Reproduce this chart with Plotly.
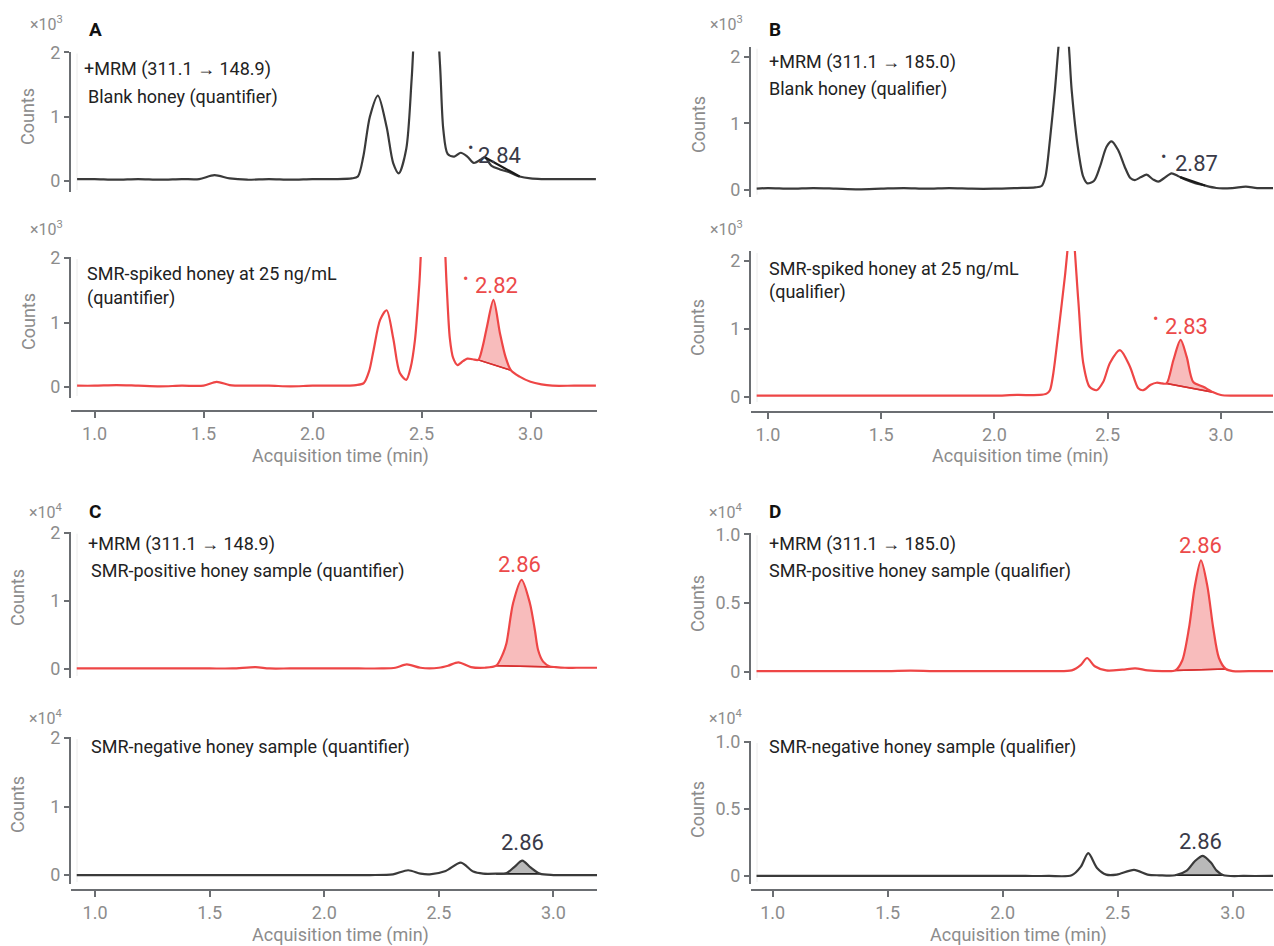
import numpy as np
import plotly.graph_objects as go

W, H = 1274, 946
FONT = "Roboto"
RED = "#ee4646"
RED_FILL = "rgba(238,95,95,0.42)"
RED_BASE = "#d83030"
DARK = "#3a3a3a"
GRAY_FILL = "rgba(100,100,100,0.45)"
AXIS = "#6b6e72"
TICKTXT = "#8c8c8c"
TXT = "#222222"

# ---------------- DATA (counts in units shown on each axis) ----------------
# Panel A top: blank honey, quantifier (x10^3)
a_top_t = [0.92, 1.00, 1.10, 1.20, 1.30, 1.40, 1.48, 1.55, 1.62, 1.70, 1.80, 1.90, 2.00, 2.10, 2.18,
           2.208, 2.233, 2.263, 2.30, 2.34, 2.37, 2.396, 2.43, 2.455, 2.48, 2.52, 2.56, 2.585, 2.60,
           2.62, 2.65, 2.68, 2.71, 2.74, 2.77, 2.79, 2.82, 2.86, 2.90, 2.95, 3.00, 3.05, 3.10, 3.20, 3.30]
a_top_y = [0.03, 0.03, 0.02, 0.03, 0.02, 0.03, 0.03, 0.09, 0.04, 0.02, 0.03, 0.02, 0.03, 0.03, 0.04,
           0.07, 0.38, 1.00, 1.33, 0.84, 0.28, 0.12, 0.50, 1.60, 3.00, 3.60, 3.00, 1.80, 0.80,
           0.42, 0.38, 0.44, 0.38, 0.28, 0.33, 0.37, 0.24, 0.18, 0.14, 0.07, 0.04, 0.03, 0.03, 0.03, 0.03]
a_top_int = [2.79, 2.95]

# Panel A bottom: SMR-spiked honey 25 ng/mL, quantifier (x10^3)
a_bot_t = [0.92, 1.00, 1.10, 1.20, 1.30, 1.40, 1.50, 1.56, 1.62, 1.70, 1.80, 1.90, 2.00, 2.10, 2.20,
           2.235, 2.26, 2.28, 2.31, 2.34, 2.37, 2.40, 2.43, 2.45, 2.47, 2.49, 2.52, 2.56, 2.60, 2.615,
           2.63, 2.645, 2.665, 2.69, 2.71, 2.735, 2.76, 2.78, 2.80, 2.83, 2.86, 2.885, 2.91, 2.95,
           3.00, 3.05, 3.10, 3.20, 3.30]
a_bot_y = [0.02, 0.02, 0.03, 0.02, 0.01, 0.02, 0.02, 0.08, 0.03, 0.02, 0.02, 0.01, 0.02, 0.02, 0.03,
           0.06, 0.25, 0.57, 1.04, 1.19, 0.76, 0.22, 0.11, 0.30, 0.73, 1.60, 3.20, 3.60, 2.60, 1.60,
           0.75, 0.45, 0.34, 0.40, 0.44, 0.43, 0.42, 0.62, 0.93, 1.35, 0.83, 0.47, 0.26, 0.16,
           0.08, 0.04, 0.02, 0.02, 0.02]
a_bot_peak = [2.76, 2.91]

# Panel B top: blank honey, qualifier (x10^3)
b_top_t = [0.95, 1.00, 1.10, 1.20, 1.30, 1.40, 1.50, 1.60, 1.70, 1.80, 1.90, 2.00, 2.10, 2.18, 2.208,
           2.225, 2.245, 2.267, 2.29, 2.305, 2.325, 2.341, 2.37, 2.392, 2.41, 2.44, 2.466, 2.495,
           2.517, 2.546, 2.575, 2.60, 2.62, 2.645, 2.672, 2.70, 2.723, 2.75, 2.782, 2.81, 2.848,
           2.88, 2.92, 2.98, 3.05, 3.11, 3.16, 3.23]
b_top_y = [0.02, 0.03, 0.02, 0.03, 0.02, 0.01, 0.02, 0.03, 0.02, 0.03, 0.02, 0.02, 0.03, 0.04, 0.06,
           0.20, 0.75, 1.50, 2.40, 2.70, 2.30, 1.50, 0.60, 0.20, 0.10, 0.14, 0.35, 0.65,
           0.73, 0.60, 0.35, 0.18, 0.15, 0.19, 0.23, 0.16, 0.125, 0.18, 0.25, 0.21, 0.15,
           0.11, 0.075, 0.03, 0.03, 0.05, 0.03, 0.03]
b_top_int = [2.82, 2.93]

# Panel B bottom: SMR-spiked honey 25 ng/mL, qualifier (x10^3)
b_bot_t = [0.95, 1.00, 1.10, 1.20, 1.30, 1.40, 1.50, 1.60, 1.70, 1.80, 1.90, 2.00, 2.10, 2.20, 2.23,
           2.245, 2.26, 2.282, 2.311, 2.34, 2.37, 2.392, 2.42, 2.451, 2.48, 2.51, 2.554, 2.598,
           2.635, 2.657, 2.69, 2.716, 2.74, 2.76, 2.79, 2.822, 2.849, 2.878, 2.922, 2.966, 3.00,
           3.05, 3.10, 3.20, 3.23]
b_bot_y = [0.02, 0.02, 0.02, 0.02, 0.02, 0.02, 0.02, 0.02, 0.02, 0.02, 0.02, 0.02, 0.03, 0.03, 0.05,
           0.10, 0.35, 0.94, 1.77, 2.60, 1.43, 0.50, 0.15, 0.10, 0.22, 0.50, 0.69, 0.45,
           0.13, 0.10, 0.18, 0.21, 0.20, 0.20, 0.54, 0.84, 0.59, 0.22, 0.15, 0.07, 0.03,
           0.02, 0.02, 0.02, 0.02]
b_bot_peak = [2.76, 2.966]

# Panel C top: SMR-positive honey sample, quantifier (x10^4)
c_top_t = [0.92, 1.00, 1.10, 1.20, 1.30, 1.40, 1.50, 1.60, 1.70, 1.76, 1.85, 1.95, 2.05, 2.15, 2.25,
           2.31, 2.36, 2.42, 2.50, 2.54, 2.585, 2.64, 2.70, 2.75, 2.78, 2.795, 2.824, 2.861, 2.897,
           2.919, 2.933, 2.955, 2.984, 3.01, 3.05, 3.10, 3.19]
c_top_y = [0.01, 0.01, 0.01, 0.01, 0.01, 0.01, 0.01, 0.01, 0.03, 0.01, 0.01, 0.01, 0.01, 0.01, 0.01,
           0.02, 0.07, 0.02, 0.02, 0.05, 0.10, 0.03, 0.02, 0.05, 0.23, 0.38, 0.97, 1.31, 0.97,
           0.57, 0.28, 0.11, 0.04, 0.03, 0.02, 0.02, 0.02]
c_top_peak = [2.75, 3.01]

# Panel C bottom: SMR-negative honey sample, quantifier (x10^4)
c_bot_t = [0.92, 1.00, 1.10, 1.20, 1.30, 1.40, 1.50, 1.60, 1.70, 1.80, 1.90, 2.00, 2.10, 2.20, 2.30,
           2.366, 2.42, 2.46, 2.53, 2.596, 2.65, 2.693, 2.75, 2.796, 2.83, 2.864, 2.90, 2.94,
           3.00, 3.10, 3.19]
c_bot_y = [0.00, 0.00, 0.00, 0.00, 0.00, 0.00, 0.00, 0.00, 0.00, 0.00, 0.00, 0.00, 0.00, 0.00, 0.01,
           0.07, 0.02, 0.01, 0.06, 0.18, 0.05, 0.02, 0.02, 0.03, 0.12, 0.21, 0.11, 0.02,
           0.00, 0.00, 0.00]
c_bot_peak = [2.75, 2.94]

# Panel D top: SMR-positive honey sample, qualifier (x10^4)
d_top_t = [0.93, 1.00, 1.10, 1.20, 1.30, 1.40, 1.50, 1.60, 1.70, 1.80, 1.90, 2.00, 2.10, 2.20, 2.30,
           2.34, 2.367, 2.40, 2.45, 2.52, 2.576, 2.63, 2.70, 2.75, 2.78, 2.81, 2.835, 2.862, 2.89,
           2.915, 2.94, 2.97, 3.00, 3.10, 3.175]
d_top_y = [0.005, 0.005, 0.005, 0.005, 0.005, 0.005, 0.005, 0.008, 0.005, 0.005, 0.005, 0.005, 0.005,
           0.005, 0.01, 0.05, 0.10, 0.04, 0.01, 0.015, 0.025, 0.01, 0.005, 0.01, 0.08, 0.32, 0.62,
           0.81, 0.62, 0.32, 0.10, 0.02, 0.005, 0.005, 0.005]
d_top_peak = [2.75, 2.97]

# Panel D bottom: SMR-negative honey sample, qualifier (x10^4)
d_bot_t = [0.93, 1.00, 1.10, 1.20, 1.30, 1.40, 1.50, 1.60, 1.70, 1.80, 1.90, 2.00, 2.10, 2.20, 2.30,
           2.34, 2.372, 2.41, 2.45, 2.496, 2.571, 2.63, 2.68, 2.75, 2.80, 2.835, 2.87, 2.905, 2.93,
           2.96, 3.05, 3.175]
d_bot_y = [0.0, 0.0, 0.0, 0.0, 0.0, 0.0, 0.0, 0.0, 0.0, 0.0, 0.0, 0.0, 0.0, 0.0, 0.005,
           0.07, 0.17, 0.06, 0.01, 0.01, 0.045, 0.01, 0.005, 0.005, 0.04, 0.11, 0.15, 0.10, 0.04,
           0.005, 0.0, 0.0]
d_bot_peak = [2.75, 2.96]

x_ticks = [1.0, 1.5, 2.0, 2.5, 3.0]
x_ticktext = ["1.0", "1.5", "2.0", "2.5", "3.0"]
y_ticks_2 = [0, 1, 2]
y_ticktext_2 = ["0", "1", "2"]
y_ticks_1 = [0, 0.5, 1.0]
y_ticktext_1 = ["0", "0.5", "1.0"]

# ---------------- LAYOUT GEOMETRY (pixels) ----------------
geo = {
    1: dict(x=(71, 597), y=(51.5, 192), xr=(0.892, 3.305), yr=(-0.171, 2.015), xpos=None, yt=2),
    2: dict(x=(71, 597), y=(257, 398), xr=(0.892, 3.305), yr=(-0.171, 2.016), xpos=411, yt=2),
    3: dict(x=(751, 1273), y=(46.7, 196.7), xr=(0.925, 3.23), yr=(-0.10, 2.15), xpos=None, yt=2),
    4: dict(x=(751, 1273), y=(251, 404), xr=(0.925, 3.23), yr=(-0.103, 2.147), xpos=412, yt=2),
    5: dict(x=(71, 597), y=(531.7, 678), xr=(0.895, 3.19), yr=(-0.13, 2.015), xpos=None, yt=2),
    6: dict(x=(71, 597), y=(737, 884), xr=(0.895, 3.19), yr=(-0.131, 2.015), xpos=890, yt=2),
    7: dict(x=(751, 1273), y=(533.3, 680), xr=(0.906, 3.175), yr=(-0.06, 1.007), xpos=None, yt=1),
    8: dict(x=(751, 1273), y=(741, 884), xr=(0.906, 3.175), yr=(-0.06, 1.0075), xpos=890, yt=1),
}


def px(x):
    return x / W


def py(y):
    return 1 - y / H


fig = go.Figure()
layout = dict(
    width=W, height=H, margin=dict(l=0, r=0, t=0, b=0, pad=0, autoexpand=False),
    paper_bgcolor="white", plot_bgcolor="white", showlegend=False,
    font=dict(family=FONT, color=TXT),
)

shapes = []
for i, g in geo.items():
    xn = "xaxis" if i == 1 else f"xaxis{i}"
    yn = "yaxis" if i == 1 else f"yaxis{i}"
    xa = dict(domain=[px(g["x"][0]), px(g["x"][1])], range=list(g["xr"]), showgrid=False,
              zeroline=False, fixedrange=True, automargin=False)
    if g["xpos"] is None:
        xa.update(visible=False, anchor=f"y{'' if i == 1 else i}")
    else:
        xa.update(anchor="free", position=py(g["xpos"]), showline=True, linecolor=AXIS, linewidth=2,
                  ticks="outside", ticklen=6, tickwidth=1.5, tickcolor=AXIS,
                  tickvals=x_ticks, ticktext=x_ticktext,
                  tickfont=dict(size=18, color=TICKTXT, family=FONT))
    ya = dict(domain=[py(g["y"][1]), py(g["y"][0])], range=list(g["yr"]), showgrid=False,
              zeroline=False, showline=True, linecolor=AXIS, linewidth=2, ticks="outside",
              ticklen=5, tickwidth=1.5, tickcolor=AXIS, anchor=f"x{'' if i == 1 else i}",
              tickvals=y_ticks_2 if g["yt"] == 2 else y_ticks_1,
              ticktext=y_ticktext_2 if g["yt"] == 2 else y_ticktext_1,
              tickfont=dict(size=18, color=TICKTXT, family=FONT), fixedrange=True,
              automargin=False)
    layout[xn] = xa
    layout[yn] = ya
    # faint plot-area edge next to the y spine
    shapes.append(dict(type="line", xref="paper", yref="paper",
                       x0=px(g["x"][0] + 6), x1=px(g["x"][0] + 6),
                       y0=py(g["y"][1] - 2), y1=py(g["y"][0] + 2),
                       line=dict(color="#ececec", width=1), layer="below"))


def axref(i):
    return ("x" if i == 1 else f"x{i}"), ("y" if i == 1 else f"y{i}")


def add_curve(i, t, y, color):
    xr, yr = axref(i)
    fig.add_trace(go.Scatter(x=t, y=y, mode="lines", xaxis=xr, yaxis=yr,
                             line=dict(color=color, width=2.2, shape="spline", smoothing=0.8),
                             hoverinfo="skip"))


def add_peak(i, t, y, window, fillcolor, basecolor):
    xr, yr = axref(i)
    t = np.asarray(t)
    y = np.asarray(y)
    m = (t >= window[0] - 1e-9) & (t <= window[1] + 1e-9)
    st, sy = t[m], y[m]
    fig.add_trace(go.Scatter(x=[st[0], st[-1]], y=[sy[0], sy[-1]], mode="lines", xaxis=xr, yaxis=yr,
                             line=dict(color=basecolor, width=1.5), hoverinfo="skip"))
    fig.add_trace(go.Scatter(x=st, y=sy, mode="lines", xaxis=xr, yaxis=yr, fill="tonexty",
                             fillcolor=fillcolor, line=dict(width=0, shape="spline", smoothing=0.8),
                             hoverinfo="skip"))
    fig.add_trace(go.Scatter(x=[st[0], st[-1]], y=[sy[0], sy[-1]], mode="lines", xaxis=xr, yaxis=yr,
                             line=dict(color=basecolor, width=1.5), hoverinfo="skip"))


def add_int_line(i, t, y, window):
    xr, yr = axref(i)
    yy = np.interp(window, t, y)
    fig.add_trace(go.Scatter(x=window, y=yy, mode="lines", xaxis=xr, yaxis=yr,
                             line=dict(color="#1a1a1a", width=2.2), hoverinfo="skip"))


# Panel A
add_curve(1, a_top_t, a_top_y, DARK)
add_int_line(1, a_top_t, a_top_y, a_top_int)
add_peak(2, a_bot_t, a_bot_y, a_bot_peak, RED_FILL, RED_BASE)
add_curve(2, a_bot_t, a_bot_y, RED)
# Panel B
add_curve(3, b_top_t, b_top_y, DARK)
add_int_line(3, b_top_t, b_top_y, b_top_int)
add_peak(4, b_bot_t, b_bot_y, b_bot_peak, RED_FILL, RED_BASE)
add_curve(4, b_bot_t, b_bot_y, RED)
# Panel C
add_peak(5, c_top_t, c_top_y, c_top_peak, RED_FILL, RED_BASE)
add_curve(5, c_top_t, c_top_y, RED)
add_peak(6, c_bot_t, c_bot_y, c_bot_peak, GRAY_FILL, "#222222")
add_curve(6, c_bot_t, c_bot_y, DARK)
# Panel D
add_peak(7, d_top_t, d_top_y, d_top_peak, RED_FILL, RED_BASE)
add_curve(7, d_top_t, d_top_y, RED)
add_peak(8, d_bot_t, d_bot_y, d_bot_peak, GRAY_FILL, "#222222")
add_curve(8, d_bot_t, d_bot_y, DARK)

ann = []


def paper_text(x, y, text, size=16, color=TXT, xanchor="left", bold=False, angle=0):
    ann.append(dict(x=px(x), y=py(y), xref="paper", yref="paper", text=f"<b>{text}</b>" if bold else text,
                    showarrow=False, xanchor=xanchor, yanchor="middle", textangle=angle,
                    font=dict(size=size, color=color, family=FONT)))


# panel letters
for (x, y, s) in [(87, 29, "A"), (767, 29, "B"), (87, 511, "C"), (767, 511, "D")]:
    paper_text(x, y, s, size=19, bold=True, color="#111111")

# multipliers
for (x, y, s) in [(65, 24, "×10<sup>3</sup>"), (65, 229, "×10<sup>3</sup>"),
                  (745, 24, "×10<sup>3</sup>"), (745, 229, "×10<sup>3</sup>"),
                  (65, 511, "×10<sup>4</sup>"), (65, 717, "×10<sup>4</sup>"),
                  (745, 511, "×10<sup>4</sup>"), (745, 717, "×10<sup>4</sup>")]:
    paper_text(x, y, s, size=16, color=TICKTXT, xanchor="right")

# Counts titles
for (x, y) in [(28, 117), (28, 322), (698, 125), (698, 328), (17, 598), (17, 805), (697, 604), (697, 810)]:
    paper_text(x, y, "Counts", size=18, color=TICKTXT, xanchor="center", angle=-90)

# x titles
for (x, y) in [(340, 456), (1020, 456), (340, 935), (1018, 935)]:
    paper_text(x, y, "Acquisition time (min)", size=18, color=TICKTXT, xanchor="center")

# descriptive texts
texts = [
    (82, 69, "+MRM (311.1 → 148.9)"), (86, 97, "Blank honey (quantifier)"),
    (85, 273, "SMR-spiked honey at 25 ng/mL"), (85, 298, "(quantifier)"),
    (767, 62, "+MRM (311.1 → 185.0)"), (767, 89, "Blank honey (qualifier)"),
    (767, 268, "SMR-spiked honey at 25 ng/mL"), (767, 292, "(qualifier)"),
    (86, 544, "+MRM (311.1 → 148.9)"), (89, 571, "SMR-positive honey sample (quantifier)"),
    (89, 747, "SMR-negative honey sample (quantifier)"),
    (767, 544, "+MRM (311.1 → 185.0)"), (767, 571, "SMR-positive honey sample (qualifier)"),
    (767, 747, "SMR-negative honey sample (qualifier)"),
]
for (x, y, s) in texts:
    paper_text(x, y, s, size=18)

# peak labels (data coordinates)
peak_labels = [
    (1, 2.856, 0.39, "2.84", "#3a3a48", (2.726, 0.52)),
    (2, 2.845, 1.57, "2.82", "#ec4a4a", (2.70, 1.69)),
    (3, 2.893, 0.40, "2.87", "#3a3a48", (2.745, 0.50)),
    (4, 2.848, 1.04, "2.83", "#ec4a4a", (2.709, 1.16)),
    (5, 2.853, 1.53, "2.86", "#ec4a4a", None),
    (6, 2.865, 0.47, "2.86", "#3a3a48", None),
    (7, 2.858, 0.915, "2.86", "#ec4a4a", None),
    (8, 2.858, 0.256, "2.86", "#3a3a48", None),
]
for (i, x, y, s, c, dot) in peak_labels:
    xr, yr = axref(i)
    ann.append(dict(x=x, y=y, xref=xr, yref=yr, text=s, showarrow=False, xanchor="center",
                    yanchor="middle", font=dict(size=22, color=c, family=FONT)))
    if dot is not None:
        ann.append(dict(x=dot[0], y=dot[1], xref=xr, yref=yr, text="•", showarrow=False,
                        xanchor="center", yanchor="middle", font=dict(size=16, color=c, family=FONT)))

layout["annotations"] = ann
layout["shapes"] = shapes
fig.update_layout(**layout)

post = (
    "document.documentElement.style.margin='0';document.documentElement.style.padding='0';"
    "document.documentElement.style.overflow='hidden';"
    "document.body.style.margin='0';document.body.style.padding='0';"
    "document.body.style.overflow='hidden';document.body.style.height='946px';"
    "var gd=document.getElementById('{plot_id}');"
    "gd.style.position='fixed';gd.style.left='0px';gd.style.top='0px';"
)
fig.write_html("out.html", config={"displayModeBar": False, "responsive": False}, post_script=post)
